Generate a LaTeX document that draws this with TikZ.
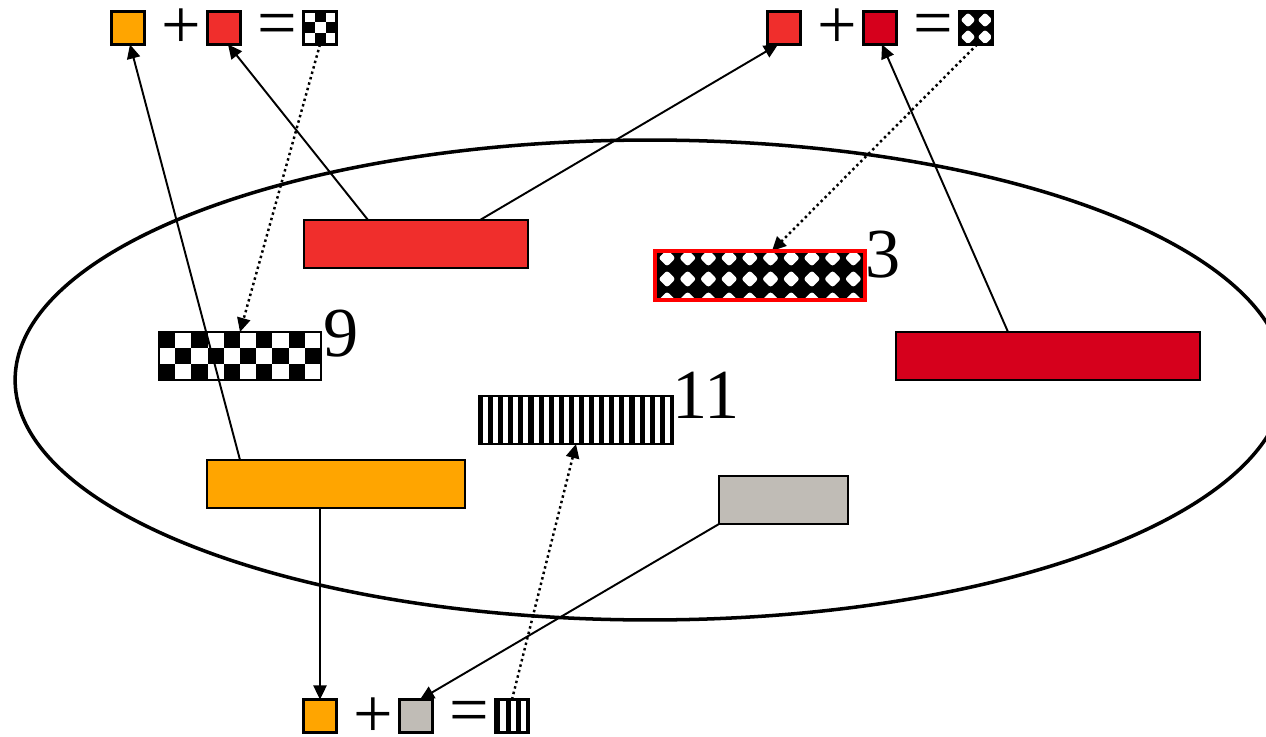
\documentclass[tikz,border=0pt]{standalone}
\usepackage{fontspec}
\setmainfont{Liberation Serif}
\usetikzlibrary{arrows.meta,calc,backgrounds}
\definecolor{cOrange}{RGB}{255,165,0}
\definecolor{cRed}{RGB}{240,46,44}
\definecolor{cDark}{RGB}{214,0,28}
\definecolor{cGray}{RGB}{192,188,182}
\definecolor{cBorder}{RGB}{255,0,0}
\begin{document}
\begin{tikzpicture}[x=0.02cm,y=-0.02cm,
  box/.style={draw=black,line width=1.2pt,inner sep=0,outer sep=0,minimum height=0.96cm},
  sq/.style={draw=black,line width=1.2pt,inner sep=0,outer sep=0,minimum width=0.66cm,minimum height=0.66cm},
  arr/.style={line width=1.1pt,-{Triangle[length=8pt,width=7.5pt]}},
  dotarr/.style={line width=1.4pt,dash pattern=on 1.4pt off 1.8pt,-{Triangle[length=8pt,width=7.5pt]}},
  sym/.style={inner sep=0,font=\fontsize{40}{46}\selectfont},
  num/.style={inner sep=0,anchor=base west,font=\fontsize{40}{46}\selectfont}]
\useasboundingbox (0,0) rectangle (1266,736);

% ---- boxes inside the ellipse
\node[box,fill=cRed,minimum width=4.48cm] (redbox) at (416,244) {};
\node[draw=cBorder,line width=2.3pt,inner sep=0,outer sep=0,minimum width=4.2cm,minimum height=0.98cm,
  path picture={\fill[black] (-120,-40) rectangle (120,40);
    \foreach \i in {0,...,10}{\foreach \y in {-17.5,3.5,24.5}{
      \fill[white,rounded corners=1.5pt] (-93+\i*20.7-8.5,\y) -- (-93+\i*20.7,\y-8.5) -- (-93+\i*20.7+8.5,\y) -- (-93+\i*20.7,\y+8.5) -- cycle;}}}]
  (box3) at (760,275.5) {};
\node[box,fill=cDark,minimum width=6.08cm] (darkred) at (1048,356) {};
\node[box,minimum width=3.24cm,
  path picture={\foreach \i in {0,...,9}{\foreach \j in {0,1,2}{
      \pgfmathtruncatemacro\k{mod(\i+\j,2)}
      \ifnum\k=0 \fill[black] (-81+\i*16.2,-24+\j*16) rectangle ++(16.2,16);\fi}}}]
  (box9) at (240,356) {};
\node[box,minimum width=3.88cm,
  path picture={\fill[black] (-110,-30) rectangle (110,30);
    \foreach \i in {0,...,18}{\fill[white] (-93+\i*10.1,-30) rectangle ++(5,60);}}]
  (box11) at (576,420) {};
\node[box,fill=cOrange,minimum width=5.16cm] (orange) at (336,484) {};
\node[box,fill=cGray,minimum width=2.58cm] (gray) at (783.5,500) {};

% ---- numbers
\node[num] (n9) at (323,356) {9};
\node[num] (n3) at (865,277) {3};
\node[num] (n11) at (672,418) {11};

% ---- top-left equation
\node[sq,fill=cOrange] (tlO) at (128,28) {};
\node[sym] (tlP) at (181,29) {+};
\node[sq,fill=cRed] (tlR) at (224,28) {};
\node[sym] (tlE) at (277,30) {=};
\node[sq,path picture={\foreach \i in {0,1,2}{\foreach \j in {0,1,2}{
      \pgfmathtruncatemacro\k{mod(\i+\j,2)}
      \ifnum\k=1 \fill[black] (-16.5+\i*11,-16.5+\j*11) rectangle ++(11,11);\fi}}}]
  (tlC) at (320,28) {};

% ---- top-right equation
\node[sq,fill=cRed] (trR) at (784,28) {};
\node[sym] (trP) at (837,29) {+};
\node[sq,fill=cDark] (trD) at (880,28) {};
\node[sym] (trE) at (933,30) {=};
\node[sq,path picture={\fill[black] (-20,-20) rectangle (20,20);
    \foreach \cx in {-8,9}{\foreach \cy in {-8,9}{
      \fill[white,rounded corners=1.5pt] (\cx-7.5,\cy) -- (\cx,\cy-7.5) -- (\cx+7.5,\cy) -- (\cx,\cy+7.5) -- cycle;}}}]
  (trC) at (976,28) {};

% ---- bottom equation
\node[sq,fill=cOrange] (bO) at (320,716) {};
\node[sym] (bP) at (373,718) {+};
\node[sq,fill=cGray] (bG) at (416,716) {};
\node[sym] (bE) at (469,717) {=};
\node[sq,path picture={\fill[black] (-20,-20) rectangle (20,20);
    \foreach \sx in {-12,-1.5,8.5}{\fill[white] (\sx,-20) rectangle ++(5.5,40);}}]
  (bS) at (512,716) {};

% ---- ellipse and connectors (behind the boxes)
\begin{pgfonlayer}{background}
\begin{scope}
\clip (0,0) rectangle (1266,736);
\draw[line width=2pt] (650,380) ellipse [x radius=12.7cm, y radius=4.8cm];
\end{scope}
\draw[arr] ($(orange.north west)+(33,0)$) -- ($(tlO.south)+(2,0)$);
\draw[arr] ($(redbox.north west)+(64,0)$) -- ($(tlR.south)+(4,0)$);
\draw[arr] ($(redbox.north west)+(176,0)$) -- ($(trR.south)+(-6,0)$);
\draw[arr] ($(darkred.north west)+(112,0)$) -- ($(trD.south)+(2,0)$);
\draw[dotarr] (tlC.south) -- (box9.north);
\draw[dotarr] ($(trC.south)+(1,0)$) -- ($(box3.north)+(12,0)$);
\draw[arr] (orange.south -| bO.north) -- (bO.north);
\draw[arr] (gray.south west) -- ($(bG.north)+(4,0)$);
\draw[dotarr] (bS.north) -- (box11.south);
\end{pgfonlayer}
\end{tikzpicture}
\end{document}
